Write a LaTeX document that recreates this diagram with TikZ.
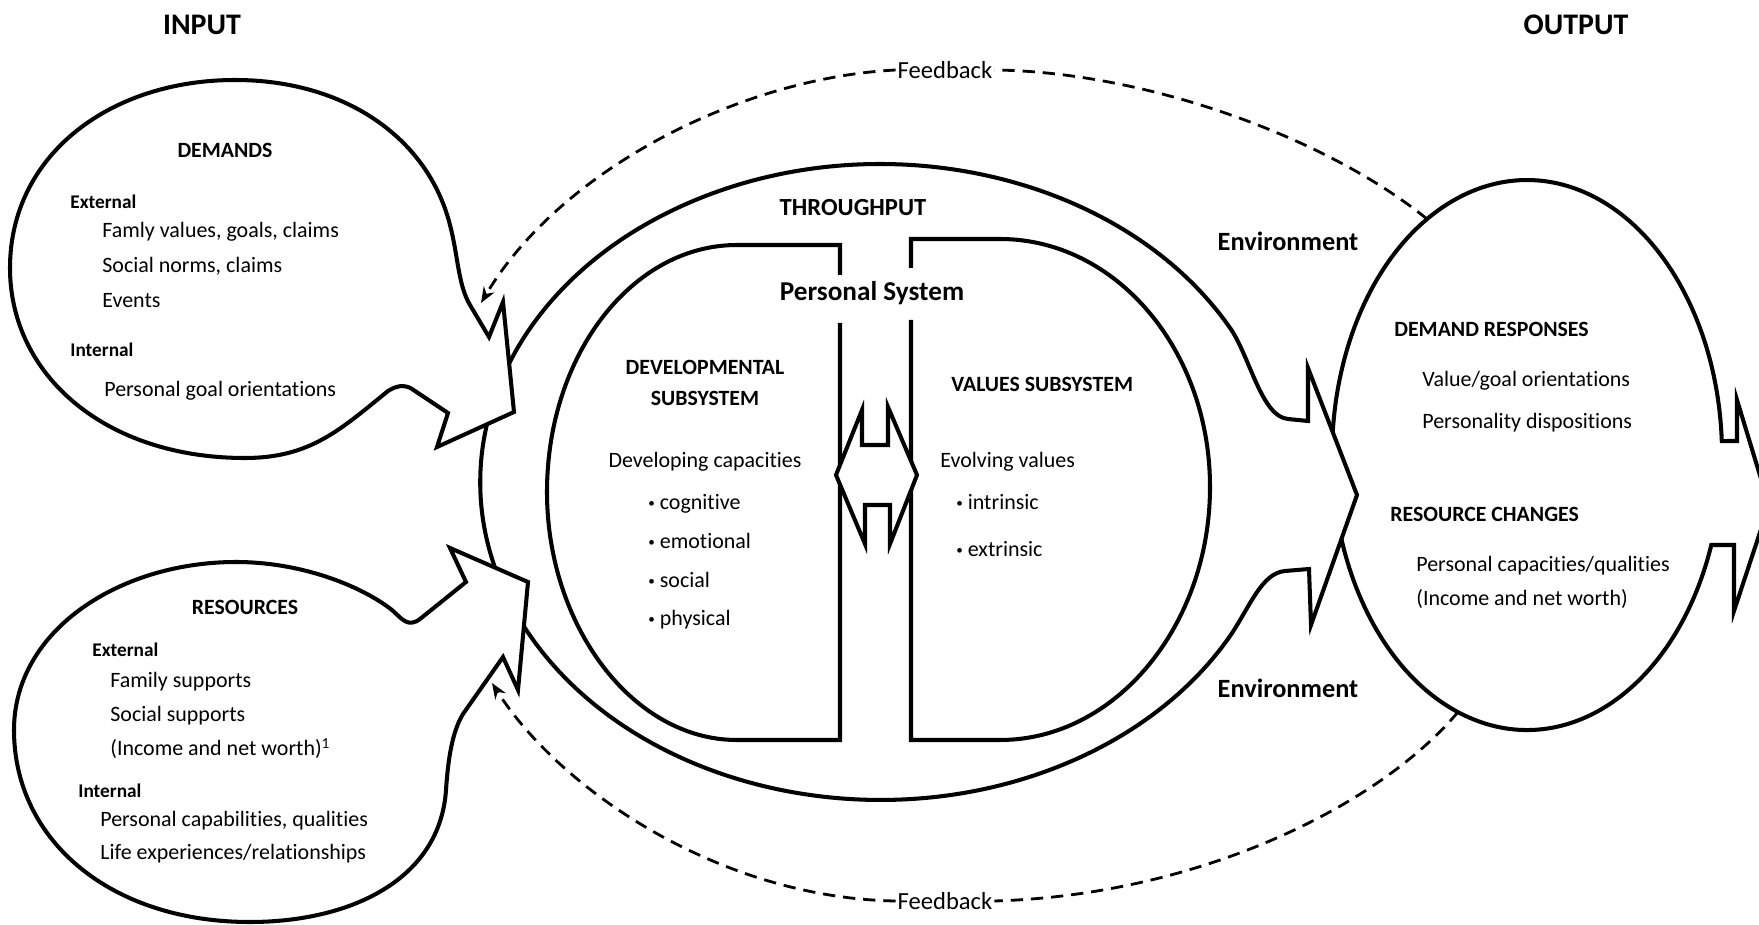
\documentclass[tikz,border=0pt]{standalone}
\usepackage{fontspec}
\setmainfont{Carlito}[Ligatures=CommonOff]
\usetikzlibrary{arrows.meta}

\newcommand{\puce}{\raisebox{0.2ex}{\scalebox{0.6}{\textbullet}}}

\begin{document}
\begin{tikzpicture}[x=0.02cm, y=-0.02cm]
  \tikzstyle{forme}=[draw, line width=2.3pt, fill=white, miter limit=20];
  \tikzstyle{trait}=[draw, line width=2.3pt];
  \tikzstyle{retour}=[line width=1.6pt, dash pattern=on 7pt off 4.5pt];
  \tikzstyle{grand}=[font=\fontsize{17}{20}\selectfont\bfseries, inner sep=0];
  \tikzstyle{moyen}=[font=\fontsize{15}{18}\selectfont\bfseries, inner sep=0];
  \tikzstyle{titre}=[font=\fontsize{12.4}{14}\selectfont\bfseries, inner sep=0];
  \tikzstyle{sous}=[font=\fontsize{11}{12}\selectfont\bfseries, inner sep=0, anchor=west];
  \tikzstyle{ligne}=[font=\fontsize{12.5}{15}\selectfont, inner sep=0, anchor=west, text height=8pt, text depth=2.5pt];
  \tikzstyle{fb}=[font=\fontsize{14}{16}\selectfont, inner sep=1pt];

  \useasboundingbox (0,0) rectangle (1759,925);

  % output
  \draw[forme] (1711.3,545) arc[start angle=-19.1, end angle=-357.08, x radius=3.9cm, y radius=5.5cm]
    -- (1737,441) -- (1737,400) -- (1769,505) -- (1734,611) -- (1734,545) -- cycle;

  % throughput
  \draw[forme] (1231.3,329.8) arc[start angle=28.6, end angle=331.4, x radius=8cm, y radius=6.36cm]
    .. controls (1250,606) and (1262,573) .. (1285,571) -- (1309,569) -- (1311,625)
    -- (1357,495) -- (1308,368) -- (1308,421) -- (1288,419)
    .. controls (1262,417) and (1250,358) .. (1231.3,329.8) -- cycle;

  % personal system
  \draw[trait] (840,275) -- (840,245) -- (737,245)
    .. controls (632,245) and (547,355) .. (547,492)
    .. controls (547,625) and (632,740) .. (737,740) -- (840,740) -- (840,323);
  \draw[trait] (911,268) -- (911,239) -- (1000,239)
    .. controls (1116,239) and (1210,350) .. (1210,487)
    .. controls (1210,625) and (1116,740) .. (1000,740) -- (911,740) -- (911,320);
  \draw[forme] (836,475) -- (862,410) -- (862,445) -- (888,445) -- (888,407) -- (917,475)
    -- (890,544) -- (890,505) -- (865,505) -- (865,544) -- cycle;

  % input
  \draw[forme] (448,413) -- (412,389) .. controls (404,384) and (396,386) .. (388,391)
    .. controls (340,430) and (310,458) .. (245,458)
    .. controls (105,458) and (10,375) .. (10,268)
    .. controls (10,155) and (110,80) .. (235,80)
    .. controls (345,80) and (428,138) .. (450,225)
    .. controls (458,255) and (458,285) .. (470,305)
    -- (489,337) -- (503,302) -- (514,412) -- (437,447) -- cycle;
  \draw[forme] (236,562) .. controls (300,562) and (360,585) .. (392,610)
    .. controls (402,619) and (408,628) .. (420,619) -- (466,582) -- (450,548)
    -- (528,582) -- (518,690) -- (503,657) -- (463,714)
    .. controls (452,732) and (448,760) .. (446,790)
    .. controls (440,880) and (350,922) .. (250,922)
    .. controls (110,922) and (14,840) .. (14,730)
    .. controls (14,630) and (120,562) .. (236,562) -- cycle;

  % feedback
  \node[fb] (fbhaut) at (945,70) {Feedback};
  \node[fb] (fbbas) at (945,901) {Feedback};
  \coordinate (sortiehaut) at (1427,219);
  \coordinate (pointehaut) at (481,303);
  \coordinate (sortiebas) at (1458,712);
  \coordinate (pointebas) at (492,683);
  \draw[retour] (sortiehaut) .. controls (1330,140) and (1150,72) .. (fbhaut.east);
  \draw[retour, -{Stealth[length=9pt, width=7pt]}] (fbhaut.west) .. controls (740,78) and (560,170) .. (pointehaut);
  \draw[retour] (sortiebas) .. controls (1380,805) and (1200,895) .. (fbbas.east);
  \draw[retour, -{Stealth[length=9pt, width=7pt]}] (fbbas.west) .. controls (720,898) and (560,790) .. (pointebas);

  % textes
  \node[grand] (input) at (202,25) {INPUT};
  \node[grand] (output) at (1576,25) {OUTPUT};

  \node[titre] (demands) at (225,150) {DEMANDS};
  \node[sous] (dext) at (70,202) {External};
  \node[ligne] (d1) at (102,233) {Famly values, goals, claims};
  \node[ligne] (d2) at (102,268) {Social norms, claims};
  \node[ligne] (d3) at (102,303) {Events};
  \node[sous] (dint) at (70,350) {Internal};
  \node[ligne] (d4) at (104,392) {Personal goal orientations};

  \node[titre] (resources) at (245,607) {RESOURCES};
  \node[sous] (rext) at (92,650) {External};
  \node[ligne] (r1) at (110,683) {Family supports};
  \node[ligne] (r2) at (110,717) {Social supports};
  \node[ligne] (r3) at (110,751) {(Income and net worth)\textsuperscript{1}};
  \node[sous] (rint) at (78,791) {Internal};
  \node[ligne] (r4) at (100,822) {Personal capabilities, qualities};
  \node[ligne] (r5) at (100,855) {Life experiences/relationships};

  \node[moyen, font=\fontsize{14}{16}\selectfont\bfseries] (through) at (853,208) {THROUGHPUT};
  \node[moyen, font=\fontsize{15.5}{18}\selectfont\bfseries] (personal) at (872,293) {Personal System};
  \node[titre] (dev1) at (705,367) {DEVELOPMENTAL};
  \node[titre] (dev2) at (705,398) {SUBSYSTEM};
  \node[ligne, anchor=center] (devcap) at (705,463) {Developing capacities};
  \foreach \t/\y in {cognitive/505, emotional/544, social/583, physical/621} {
    \node[ligne] (dev-\t) at (648,\y) {\puce\ \t};
  }
  \node[titre, anchor=west] (values) at (951,384) {VALUES SUBSYSTEM};
  \node[ligne] (evol) at (940,463) {Evolving values};
  \foreach \t/\y in {intrinsic/505, extrinsic/552} {
    \node[ligne] (val-\t) at (956,\y) {\puce\ \t};
  }

  \node[moyen] (envhaut) at (1288,241) {Environment};
  \node[moyen] (envbas) at (1288,688) {Environment};

  \node[titre, anchor=west] (dresp) at (1394,329) {DEMAND RESPONSES};
  \node[ligne] (o1) at (1422,382) {Value/goal orientations};
  \node[ligne] (o2) at (1422,424) {Personality dispositions};
  \node[titre, anchor=west] (rchg) at (1390,514) {RESOURCE CHANGES};
  \node[ligne] (o3) at (1416,567) {Personal capacities/qualities};
  \node[ligne] (o4) at (1416,601) {(Income and net worth)};
\end{tikzpicture}
\end{document}
